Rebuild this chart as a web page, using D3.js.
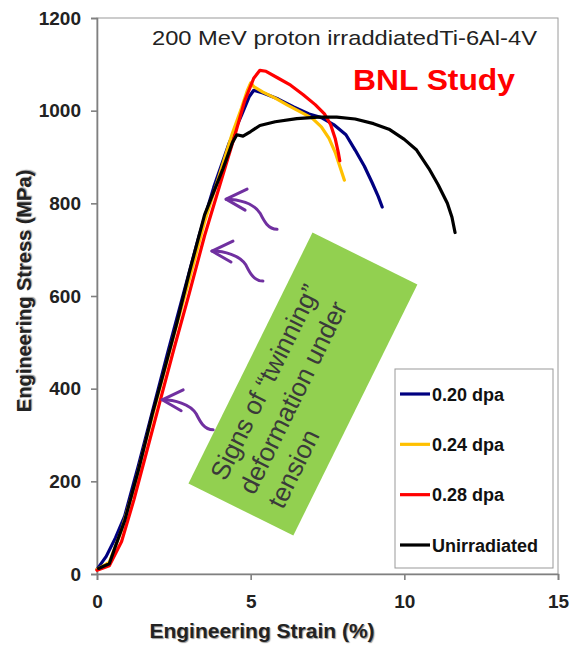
<!DOCTYPE html>
<html>
<head>
<meta charset="utf-8">
<script src="https://cdn.jsdelivr.net/npm/d3@7/dist/d3.min.js"></script>
<style>
  html, body { margin: 0; padding: 0; background: #fff; }
  svg { display: block; font-family: "Liberation Sans", Arial, sans-serif; }
</style>
</head>
<body>
<svg id="chart" width="571" height="653"></svg>
<script>
// Engineering stress-strain curves, [strain %, stress MPa]
const dpa020 = [[0,10],[0.3,38],[0.6,78],[0.9,125],[1.35,235],[1.8,350],[2.3,478],[2.8,602],[3.3,725],[3.8,835],[4.3,930],[4.7,990],[4.95,1030],[5.1,1044],[5.4,1038],[5.9,1025],[6.4,1008],[6.9,993],[7.3,985],[7.7,970],[8.1,948],[8.4,915],[8.7,880],[8.95,845],[9.15,815],[9.28,792]];
const dpa024 = [[0,10],[0.4,25],[0.8,95],[1.2,185],[1.6,290],[2.0,390],[2.5,515],[3.0,635],[3.5,760],[4.0,865],[4.4,950],[4.7,1005],[4.9,1045],[5.0,1060],[5.1,1052],[5.4,1040],[5.8,1027],[6.2,1012],[6.6,998],[7.0,984],[7.3,965],[7.55,940],[7.75,910],[7.9,880],[8.05,850]];
const dpa028 = [[0,8],[0.4,18],[0.8,70],[1.2,160],[1.6,260],[2.0,360],[2.5,485],[3.0,605],[3.5,730],[4.0,840],[4.5,950],[4.8,1020],[5.1,1070],[5.3,1087],[5.5,1085],[5.9,1070],[6.3,1055],[6.7,1035],[7.1,1013],[7.4,993],[7.6,970],[7.75,940],[7.85,910],[7.9,892]];
const unirradiated = [[0.05,12],[0.4,22],[0.6,60],[0.9,115],[1.35,225],[1.8,345],[2.1,418],[2.6,542],[3.0,650],[3.5,775],[4.1,875],[4.4,930],[4.55,948],[4.75,945],[5.0,955],[5.3,968],[5.8,976],[6.5,983],[7.2,986],[7.8,986],[8.4,982],[9.0,972],[9.5,960],[10.0,938],[10.4,915],[10.8,875],[11.1,840],[11.4,800],[11.55,770],[11.65,737]];

const seriesNames = ["0.20 dpa", "0.24 dpa", "0.28 dpa", "Unirradiated"];
const seriesColors = ["#000080", "#FFC000", "#FF0000", "#000000"];
const seriesData = [dpa020, dpa024, dpa028, unirradiated];

const xTicks = [0, 5, 10, 15];
const yTicks = [0, 200, 400, 600, 800, 1000, 1200];

// Twinning markers on the elastic line, [strain %, stress MPa]
const twinMarks = [[4.2, 809], [3.74, 697], [2.12, 376]];
const noteCenter = [6.7, 410];
const noteLines = ["Signs of \u201Ctwinning\u201D", "deformation under", "tension"];

const svg = d3.select("#chart");
const x = d3.scaleLinear().domain([0, 15]).range([97, 558]);
const y = d3.scaleLinear().domain([0, 1200]).range([574, 18]);

// plot frame
svg.append("rect")
  .attr("x", x(0)).attr("y", y(1200))
  .attr("width", x(15) - x(0)).attr("height", y(0) - y(1200))
  .attr("fill", "none").attr("stroke", "#9a9a9a").attr("stroke-width", 1);

// axes
const xAxis = svg.append("g").attr("transform", `translate(0,${y(0)})`)
  .call(d3.axisBottom(x).tickValues(xTicks).tickSize(6).tickPadding(10).tickFormat(d3.format("d")));
const yAxis = svg.append("g").attr("transform", `translate(${x(0)},0)`)
  .call(d3.axisLeft(y).tickValues(yTicks).tickSize(6).tickPadding(10).tickFormat(d3.format("d")));
[xAxis, yAxis].forEach(g => {
  g.select(".domain").attr("stroke", "#808080").attr("stroke-width", 1.6);
  g.selectAll(".tick line").attr("stroke", "#808080").attr("stroke-width", 1.6);
  g.selectAll(".tick text")
    .attr("fill", "#222").attr("font-size", 19).attr("font-weight", "bold")
    .attr("font-family", "'Liberation Sans', Arial, sans-serif");
});
xAxis.selectAll(".tick text").attr("dy", "0.95em");

// annotation box
const noteG = svg.append("g")
  .attr("transform", `translate(${x(noteCenter[0])},${y(noteCenter[1])}) rotate(-63.7)`);
noteG.append("rect")
  .attr("x", -140).attr("y", -58.5).attr("width", 280).attr("height", 117)
  .attr("fill", "#92D050");
noteG.selectAll("text.note").data(noteLines).join("text")
  .attr("class", "note")
  .attr("x", -122).attr("y", (d, i) => -26 + i * 32)
  .attr("fill", "#3a3a3a").attr("font-size", 26)
  .text(d => d);

// curves
const line = d3.line().x(d => x(d[0])).y(d => y(d[1]));
svg.append("g").selectAll("path").data(seriesData).join("path")
  .attr("d", line)
  .attr("fill", "none")
  .attr("stroke", (d, i) => seriesColors[i])
  .attr("stroke-width", 3.2)
  .attr("stroke-linejoin", "round")
  .attr("stroke-linecap", "round");

// curly arrows pointing at the elastic line
const arrowG = svg.append("g").selectAll("g").data(twinMarks).join("g")
  .attr("transform", d => `translate(${x(d[0])},${y(d[1])})`);
arrowG.append("path")
  .attr("d", "M0,0 C12,0 28,4 34,14 C38,22 42,30 51,30")
  .attr("fill", "none").attr("stroke", "#7030A0").attr("stroke-width", 3).attr("stroke-linecap", "round");
arrowG.append("path")
  .attr("d", "M21,-10 L0,0 L19,11")
  .attr("fill", "none").attr("stroke", "#7030A0").attr("stroke-width", 3)
  .attr("stroke-linecap", "round").attr("stroke-linejoin", "round");

// titles
svg.append("text")
  .attr("x", 152).attr("y", 45)
  .attr("font-size", 21).attr("fill", "#222")
  .attr("textLength", 385).attr("lengthAdjust", "spacingAndGlyphs")
  .text("200 MeV proton irraddiatedTi-6Al-4V");
svg.append("text")
  .attr("x", 353).attr("y", 90)
  .attr("font-size", 30).attr("font-weight", "bold").attr("fill", "#FF0000")
  .attr("textLength", 162).attr("lengthAdjust", "spacingAndGlyphs")
  .text("BNL Study");

svg.append("text")
  .attr("x", 262).attr("y", 638).attr("text-anchor", "middle")
  .attr("font-size", 21).attr("font-weight", "bold").attr("fill", "#222")
  .style("text-shadow", "1px 1px 1px #999")
  .text("Engineering Strain (%)");
svg.append("text")
  .attr("transform", "translate(31,291) rotate(-90)").attr("text-anchor", "middle")
  .attr("font-size", 20).attr("font-weight", "bold").attr("fill", "#222")
  .style("text-shadow", "1px 1px 1px #999")
  .text("Engineering Stress (MPa)");

// legend
const legend = svg.append("g");
legend.append("rect")
  .attr("x", 395).attr("y", 369).attr("width", 158).attr("height", 199)
  .attr("fill", "#fff").attr("stroke", "#999").attr("stroke-width", 1);
const legY = d3.scalePoint().domain(seriesNames).range([394, 545]);
const item = legend.selectAll("g.item").data(seriesNames).join("g")
  .attr("class", "item")
  .attr("transform", d => `translate(0,${legY(d)})`);
item.append("line")
  .attr("x1", 400).attr("x2", 430).attr("y1", 0).attr("y2", 0)
  .attr("stroke", (d, i) => seriesColors[i]).attr("stroke-width", 3.2);
item.append("text")
  .attr("x", 432).attr("y", 6.5)
  .attr("font-size", 18).attr("font-weight", "bold").attr("fill", "#111")
  .text(d => d);
</script>
</body>
</html>
